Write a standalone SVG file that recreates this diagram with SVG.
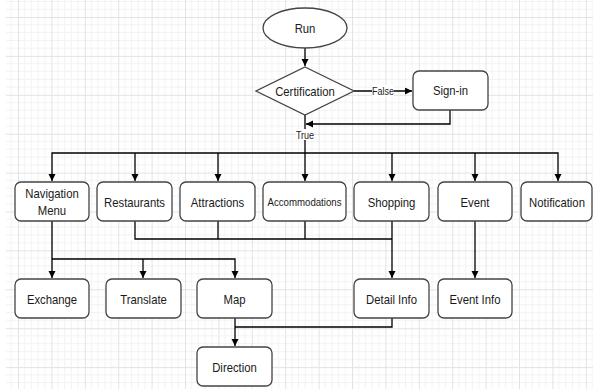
<svg xmlns="http://www.w3.org/2000/svg" width="593" height="389" viewBox="0 0 593 389">
<style>
.node{fill:#fff;stroke:#444;stroke-width:1.3}
.lbl{font-family:"Liberation Sans",Arial,sans-serif;font-size:13px;fill:#1a1a1a;text-anchor:middle}
.sm{font-size:10.5px}
.el{font-family:"Liberation Sans",Arial,sans-serif;font-size:10px;fill:#1a1a1a;text-anchor:middle}
.edge{fill:none;stroke:#000;stroke-width:1.3}
</style>
<defs>
<pattern id="grid" patternUnits="userSpaceOnUse" x="18" y="17" width="33.4" height="38.9">
<path d="M6.68 0V38.9M13.36 0V38.9M20.04 0V38.9M26.72 0V38.9M0 7.78H33.4M0 15.56H33.4M0 23.34H33.4M0 31.12H33.4" stroke="#f2f2f2" stroke-width="1" fill="none"/>
<path d="M0.5 0V38.9M0 0.5H33.4" stroke="#e3e3e3" stroke-width="1" fill="none"/>
</pattern>
<marker id="arr" markerUnits="userSpaceOnUse" markerWidth="8" markerHeight="8" refX="7" refY="3.5" orient="auto">
<path d="M0 0L7 3.5L0 7z" fill="#000"/>
</marker>
</defs>
<rect width="593" height="389" fill="#fff"/>
<rect x="6" y="0" width="587" height="389" fill="url(#grid)"/>

<g id="connectors">
<path class="edge" d="M305 48V66" marker-end="url(#arr)"/>
<path class="edge" d="M354 91H412" marker-end="url(#arr)"/>
<path class="edge" d="M450 110V124H306" marker-end="url(#arr)"/>
<path class="edge" d="M305 115V153H52V181" marker-end="url(#arr)"/>
<path class="edge" d="M305 153H558V181" marker-end="url(#arr)"/>
<path class="edge" d="M135 153V181" marker-end="url(#arr)"/>
<path class="edge" d="M218 153V181" marker-end="url(#arr)"/>
<path class="edge" d="M305 153V181" marker-end="url(#arr)"/>
<path class="edge" d="M392 153V181" marker-end="url(#arr)"/>
<path class="edge" d="M475 153V181" marker-end="url(#arr)"/>
<path class="edge" d="M135 221V239H392"/>
<path class="edge" d="M218 221V239"/>
<path class="edge" d="M305 221V239"/>
<path class="edge" d="M392 221V278" marker-end="url(#arr)"/>
<path class="edge" d="M475 221V278" marker-end="url(#arr)"/>
<path class="edge" d="M52 221V278" marker-end="url(#arr)"/>
<path class="edge" d="M52 259H235V278" marker-end="url(#arr)"/>
<path class="edge" d="M143 259V278" marker-end="url(#arr)"/>
<path class="edge" d="M235 318V346" marker-end="url(#arr)"/>
<path class="edge" d="M392 318V327H235"/>
<rect x="372" y="85" width="22" height="12" fill="#fff"/>
<text class="el" transform="translate(383,95) scale(0.9,1)">False</text>
<rect x="296" y="129" width="18" height="11" fill="#fff"/>
<text class="el" transform="translate(305,138.5) scale(0.9,1)">True</text>
</g>

<g id="run">
<ellipse class="node" cx="305" cy="28" rx="42" ry="20"/>
<text class="lbl" transform="translate(305,32.5) scale(0.87,1)">Run</text>
</g>
<g id="certification">
<path class="node" d="M305 67L354 91L305 115L256 91z"/>
<text class="lbl" transform="translate(305,95.5) scale(0.87,1)">Certification</text>
</g>
<g id="signin">
<rect class="node" x="413" y="71" width="75" height="39" rx="6"/>
<text class="lbl" transform="translate(450.5,95) scale(0.87,1)">Sign-in</text>
</g>

<g id="navigation-menu">
<rect class="node" x="15" y="182" width="74" height="39" rx="6"/>
<text class="lbl" transform="translate(52,198) scale(0.87,1)">Navigation</text>
<text class="lbl" transform="translate(52,214.5) scale(0.87,1)">Menu</text>
</g>
<g id="restaurants">
<rect class="node" x="97" y="182" width="75" height="39" rx="6"/>
<text class="lbl" transform="translate(134.5,206.5) scale(0.87,1)">Restaurants</text>
</g>
<g id="attractions">
<rect class="node" x="180" y="182" width="75" height="39" rx="6"/>
<text class="lbl" transform="translate(217.5,206.5) scale(0.87,1)">Attractions</text>
</g>
<g id="accommodations">
<rect class="node" x="263" y="182" width="83" height="39" rx="6"/>
<text class="lbl sm" transform="translate(304.5,205.5) scale(0.92,1)">Accommodations</text>
</g>
<g id="shopping">
<rect class="node" x="354" y="182" width="75" height="39" rx="6"/>
<text class="lbl" transform="translate(391.5,206.5) scale(0.87,1)">Shopping</text>
</g>
<g id="event">
<rect class="node" x="438" y="182" width="74" height="39" rx="6"/>
<text class="lbl" transform="translate(475,206.5) scale(0.87,1)">Event</text>
</g>
<g id="notification">
<rect class="node" x="521" y="182" width="71" height="39" rx="6"/>
<text class="lbl" transform="translate(557,206.5) scale(0.87,1)">Notification</text>
</g>

<g id="exchange">
<rect class="node" x="15" y="279" width="74" height="39" rx="6"/>
<text class="lbl" transform="translate(52,303.5) scale(0.87,1)">Exchange</text>
</g>
<g id="translate">
<rect class="node" x="106" y="279" width="75" height="39" rx="6"/>
<text class="lbl" transform="translate(143.5,303.5) scale(0.87,1)">Translate</text>
</g>
<g id="map">
<rect class="node" x="197" y="279" width="75" height="39" rx="6"/>
<text class="lbl" transform="translate(234.5,303.5) scale(0.87,1)">Map</text>
</g>
<g id="detail-info">
<rect class="node" x="354" y="279" width="75" height="39" rx="6"/>
<text class="lbl" transform="translate(391.5,303.5) scale(0.87,1)">Detail Info</text>
</g>
<g id="event-info">
<rect class="node" x="438" y="279" width="74" height="39" rx="6"/>
<text class="lbl" transform="translate(475,303.5) scale(0.87,1)">Event Info</text>
</g>
<g id="direction">
<rect class="node" x="197" y="347" width="75" height="39" rx="6"/>
<text class="lbl" transform="translate(234.5,371.5) scale(0.87,1)">Direction</text>
</g>
</svg>
